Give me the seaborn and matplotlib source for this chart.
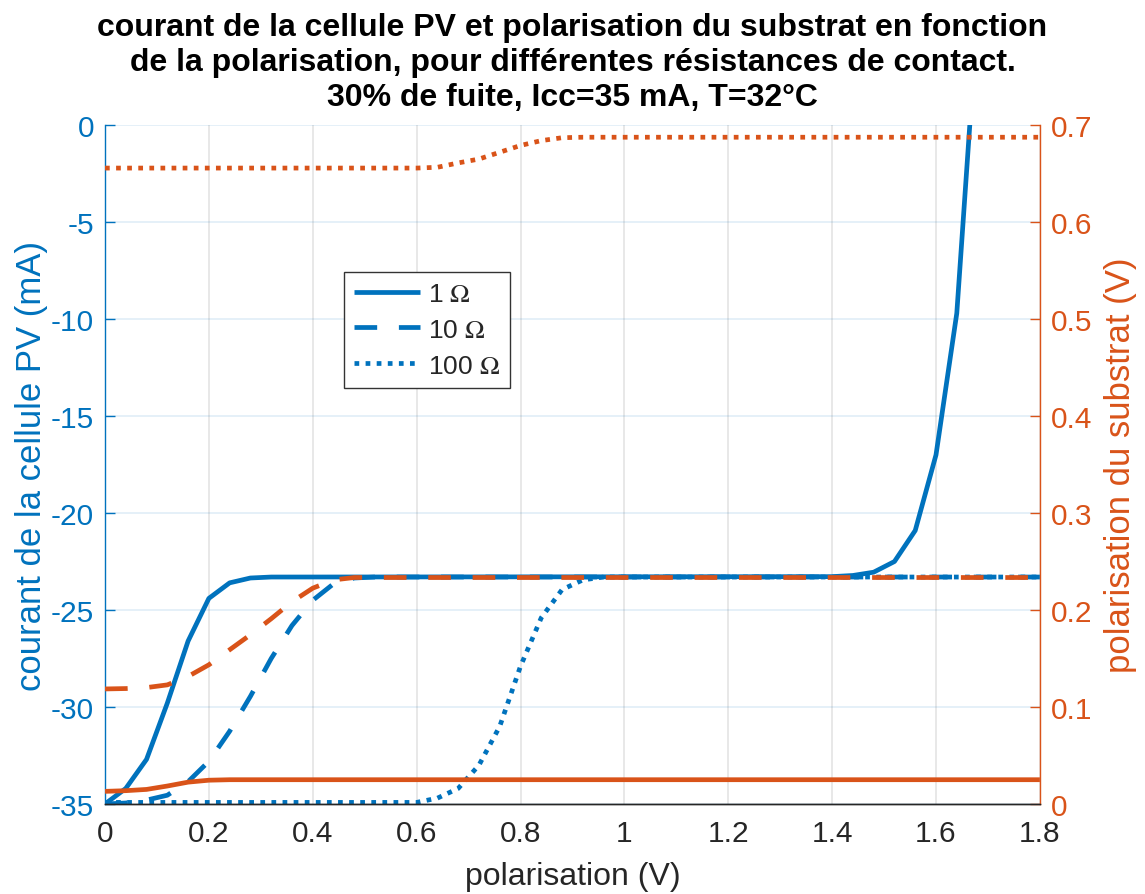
import numpy as np
import matplotlib
matplotlib.use("Agg")
import matplotlib.pyplot as plt
import seaborn as sns

# --- data -------------------------------------------------------------
# PV cell current (mA) versus bias (V), one curve per contact resistance
x_i_1 = [0, 0.04, 0.08, 0.12, 0.16, 0.20, 0.24, 0.28, 0.32, 1.40, 1.44,
         1.48, 1.52, 1.56, 1.60, 1.64, 1.68]
i_1 = [-35.0, -34.2, -32.7, -29.8, -26.6, -24.4, -23.6, -23.35, -23.3,
       -23.28, -23.22, -23.05, -22.5, -20.9, -17.0, -9.7, 5.8]

x_i_10 = [0, 0.04, 0.08, 0.12, 0.16, 0.20, 0.24, 0.28, 0.32, 0.36, 0.40,
          0.44, 0.48, 0.52, 1.80]
i_10 = [-35.0, -34.95, -34.8, -34.55, -33.85, -32.8, -31.25, -29.45, -27.5,
        -25.8, -24.5, -23.65, -23.35, -23.3, -23.3]

x_i_100 = [0, 0.60, 0.64, 0.68, 0.72, 0.76, 0.80, 0.84, 0.88, 0.92, 0.96, 1.80]
i_100 = [-34.92, -34.92, -34.7, -34.2, -33.0, -31.0, -27.9, -25.4, -23.95,
         -23.45, -23.3, -23.3]

# substrate bias (V) versus bias (V)
x_v_1 = [0, 0.04, 0.08, 0.12, 0.16, 0.20, 0.24, 1.80]
v_1 = [0.013, 0.0137, 0.015, 0.0185, 0.0225, 0.0245, 0.025, 0.025]

x_v_10 = [0, 0.04, 0.08, 0.12, 0.16, 0.20, 0.24, 0.28, 0.32, 0.36, 0.40,
          0.44, 0.48, 1.80]
v_10 = [0.1186, 0.119, 0.120, 0.1228, 0.1315, 0.1435, 0.159, 0.1745, 0.191,
        0.2085, 0.2225, 0.231, 0.2335, 0.2335]

x_v_100 = [0, 0.60, 0.64, 0.68, 0.72, 0.76, 0.80, 0.84, 0.88, 0.92, 1.80]
v_100 = [0.6557, 0.6557, 0.6565, 0.661, 0.665, 0.672, 0.679, 0.684, 0.687,
         0.6875, 0.6875]

legend_labels = ["1 $\\Omega$", "10 $\\Omega$", "100 $\\Omega$"]
x_ticks = [0, 0.2, 0.4, 0.6, 0.8, 1, 1.2, 1.4, 1.6, 1.8]
x_tick_labels = ["0", "0.2", "0.4", "0.6", "0.8", "1", "1.2", "1.4", "1.6", "1.8"]
left_ticks = [-35, -30, -25, -20, -15, -10, -5, 0]
right_ticks = [0, 0.1, 0.2, 0.3, 0.4, 0.5, 0.6, 0.7]
right_tick_labels = ["0", "0.1", "0.2", "0.3", "0.4", "0.5", "0.6", "0.7"]

title = ("courant de la cellule PV et polarisation du substrat en fonction\n"
         "de la polarisation, pour différentes résistances de contact.\n"
         "30% de fuite, Icc=35 mA, T=32°C")

# --- style ------------------------------------------------------------
sns.set_theme(style="white")
plt.rcParams["font.family"] = ["Liberation Sans", "DejaVu Sans"]
plt.rcParams["mathtext.fontset"] = "stix"

BLUE = "#0072BD"
ORANGE = "#D95319"
DARK = "#262626"
LW = 3.4
solid = "-"
dashed = (0, (4.8, 4.6))
dotted = (0, (1.0, 1.35))

fig = plt.figure(figsize=(11.45, 8.95), dpi=100)
ax = fig.add_axes([0.0917, 0.1006, 0.8165, 0.7585])
ax2 = ax.twinx()

# current curves on the left axis
sns.lineplot(x=x_i_1, y=i_1, ax=ax, color=BLUE, linewidth=LW, linestyle=solid)
sns.lineplot(x=x_i_10, y=i_10, ax=ax, color=BLUE, linewidth=LW, linestyle=dashed)
sns.lineplot(x=x_i_100, y=i_100, ax=ax, color=BLUE, linewidth=LW, linestyle=dotted)

# substrate bias curves on the right axis
sns.lineplot(x=x_v_1, y=v_1, ax=ax2, color=ORANGE, linewidth=LW, linestyle=solid)
sns.lineplot(x=x_v_10, y=v_10, ax=ax2, color=ORANGE, linewidth=LW, linestyle=dashed)
sns.lineplot(x=x_v_100, y=v_100, ax=ax2, color=ORANGE, linewidth=LW, linestyle=dotted)

for line in ax.lines + ax2.lines:
    line.set_solid_capstyle("butt")
    line.set_dash_capstyle("butt")

ax.set_xlim(0, 1.8)
ax.set_ylim(-35, 0)
ax2.set_ylim(0, 0.7)

TICK_FS = 21.5
ax.set_xticks(x_ticks)
ax.set_xticklabels(x_tick_labels)
ax.set_yticks(left_ticks)
ax.set_yticklabels([str(t) for t in left_ticks])
ax2.set_yticks(right_ticks)
ax2.set_yticklabels(right_tick_labels)

ax.tick_params(axis="x", direction="in", length=7, width=1, colors=DARK,
               labelsize=TICK_FS, pad=11, labelcolor=DARK)
ax.tick_params(axis="y", direction="in", length=7, width=1, colors=BLUE,
               labelsize=TICK_FS, pad=8)
ax2.tick_params(axis="y", direction="in", length=7, width=1, colors=ORANGE,
                labelsize=TICK_FS, pad=8)

# grid: vertical grey, horizontal tinted like the left axis
ax.xaxis.grid(True, color=DARK, alpha=0.12, linewidth=1.2)
ax.yaxis.grid(True, color=BLUE, alpha=0.12, linewidth=1.2)
ax.set_axisbelow(True)

for a in (ax, ax2):
    a.spines["top"].set_visible(False)
    a.spines["bottom"].set_color(DARK)
    a.spines["bottom"].set_linewidth(1)
ax.spines["left"].set_color(BLUE)
ax.spines["left"].set_linewidth(1)
ax.spines["right"].set_visible(False)
ax2.spines["left"].set_visible(False)
ax2.spines["right"].set_color(ORANGE)
ax2.spines["right"].set_linewidth(1)

ax.set_xlabel("polarisation (V)", fontsize=23, color=DARK, labelpad=10)
ax.set_ylabel("courant de la cellule PV (mA)", fontsize=25, color=BLUE,
              labelpad=2)
ax2.set_ylabel("polarisation du substrat (V)", fontsize=25, color=ORANGE,
               rotation=90, labelpad=8)

fig.suptitle(title, fontsize=23, fontweight="bold", color="black",
             y=0.986, va="top", linespacing=1.22)

leg = ax2.legend(handles=ax.lines[:3], labels=legend_labels,
                 loc="upper left", bbox_to_anchor=(0.256, 0.784),
                 fontsize=19, frameon=True, fancybox=False, framealpha=1,
                 edgecolor="#333333", handlelength=2.5, handletextpad=0.3,
                 labelspacing=0.45, borderpad=0.38, borderaxespad=0)
leg.get_frame().set_linewidth(1)

fig.savefig("out.png", dpi=100)
